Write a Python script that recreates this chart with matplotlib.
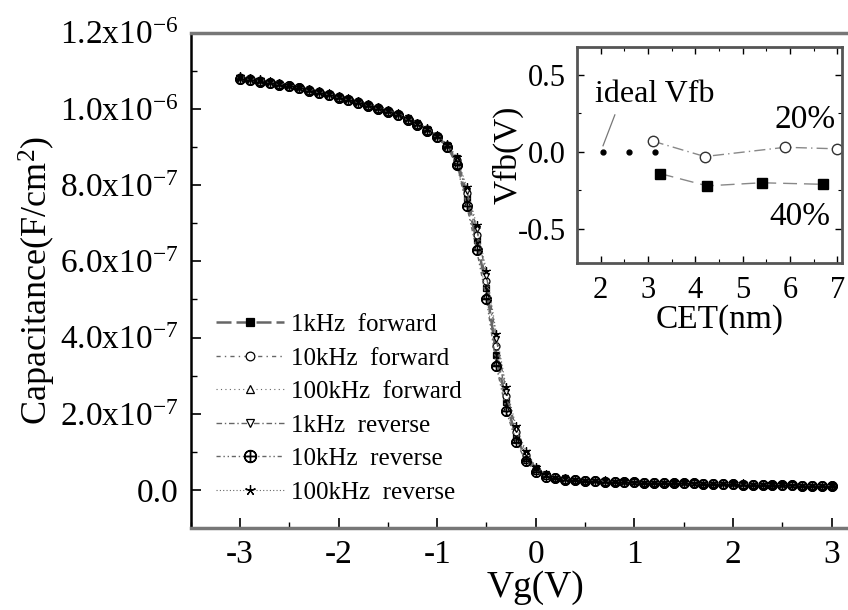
import numpy as np
import matplotlib
matplotlib.use("Agg")
import matplotlib.pyplot as plt

plt.rcParams['font.family'] = ['Liberation Serif', 'DejaVu Serif']
plt.rcParams['mathtext.fontset'] = 'custom'
plt.rcParams['mathtext.rm'] = 'Liberation Serif'
plt.rcParams['mathtext.it'] = 'Liberation Serif:italic'
plt.rcParams['mathtext.bf'] = 'Liberation Serif:bold'

# gate voltage sweep (V)
vg = [-3.0, -2.9, -2.8, -2.7, -2.6, -2.5, -2.4, -2.3, -2.2, -2.1,
      -2.0, -1.9, -1.8, -1.7, -1.6, -1.5, -1.4, -1.3, -1.2, -1.1,
      -1.0, -0.9, -0.8, -0.7, -0.6, -0.5, -0.4, -0.3, -0.2, -0.1,
      0.0, 0.1, 0.2, 0.3, 0.4, 0.5, 0.6, 0.7, 0.8, 0.9,
      1.0, 1.1, 1.2, 1.3, 1.4, 1.5, 1.6, 1.7, 1.8, 1.9,
      2.0, 2.1, 2.2, 2.3, 2.4, 2.5, 2.6, 2.7, 2.8, 2.9, 3.0]

# capacitance in units of 1e-7 F/cm2
c_1k_fwd = [10.80, 10.77, 10.73, 10.69, 10.65, 10.60, 10.55, 10.49, 10.43, 10.37,
            10.31, 10.24, 10.17, 10.10, 10.02, 9.94, 9.84, 9.73, 9.60, 9.45,
            9.27, 9.02, 8.60, 7.65, 6.55, 5.30, 3.55, 2.30, 1.40, 0.85,
            0.52, 0.38, 0.32, 0.29, 0.27, 0.25, 0.24, 0.23, 0.22, 0.21,
            0.21, 0.20, 0.20, 0.19, 0.19, 0.18, 0.18, 0.17, 0.17, 0.16,
            0.16, 0.15, 0.15, 0.14, 0.14, 0.13, 0.13, 0.12, 0.12, 0.11, 0.11]
c_10k_fwd = [10.84, 10.80, 10.76, 10.71, 10.67, 10.63, 10.57, 10.52, 10.46, 10.40,
             10.33, 10.27, 10.20, 10.12, 10.05, 9.96, 9.87, 9.76, 9.63, 9.48,
             9.30, 9.06, 8.66, 7.78, 6.70, 5.48, 3.78, 2.46, 1.52, 0.92,
             0.56, 0.40, 0.33, 0.30, 0.28, 0.26, 0.25, 0.24, 0.23, 0.22,
             0.22, 0.21, 0.21, 0.20, 0.20, 0.19, 0.19, 0.18, 0.18, 0.17,
             0.17, 0.16, 0.16, 0.15, 0.15, 0.14, 0.14, 0.13, 0.13, 0.12, 0.12]
c_100k_fwd = [10.76, 10.73, 10.70, 10.66, 10.62, 10.57, 10.52, 10.46, 10.40, 10.34,
              10.28, 10.21, 10.14, 10.07, 9.99, 9.91, 9.81, 9.70, 9.57, 9.42,
              9.24, 8.98, 8.54, 7.52, 6.40, 5.12, 3.36, 2.15, 1.30, 0.79,
              0.49, 0.36, 0.30, 0.27, 0.25, 0.23, 0.22, 0.21, 0.20, 0.19,
              0.19, 0.18, 0.18, 0.17, 0.17, 0.16, 0.16, 0.15, 0.15, 0.14,
              0.14, 0.13, 0.13, 0.12, 0.12, 0.11, 0.11, 0.10, 0.10, 0.09, 0.09]
c_1k_rev = [10.82, 10.78, 10.74, 10.70, 10.66, 10.61, 10.56, 10.50, 10.44, 10.38,
            10.32, 10.25, 10.18, 10.11, 10.03, 9.95, 9.86, 9.75, 9.62, 9.47,
            9.29, 9.05, 8.70, 7.85, 6.85, 5.62, 3.95, 2.58, 1.60, 0.97,
            0.58, 0.41, 0.34, 0.30, 0.28, 0.26, 0.25, 0.24, 0.23, 0.22,
            0.21, 0.21, 0.20, 0.20, 0.19, 0.19, 0.18, 0.18, 0.17, 0.17,
            0.16, 0.16, 0.15, 0.15, 0.14, 0.14, 0.13, 0.13, 0.12, 0.12, 0.11]
c_10k_rev = [10.78, 10.75, 10.71, 10.68, 10.63, 10.59, 10.54, 10.48, 10.42, 10.36,
             10.29, 10.23, 10.16, 10.08, 10.01, 9.92, 9.83, 9.71, 9.58, 9.43,
             9.25, 9.00, 8.52, 7.45, 6.30, 5.00, 3.25, 2.08, 1.26, 0.76,
             0.47, 0.35, 0.30, 0.27, 0.25, 0.24, 0.23, 0.22, 0.21, 0.20,
             0.20, 0.19, 0.19, 0.18, 0.18, 0.17, 0.17, 0.16, 0.16, 0.15,
             0.15, 0.14, 0.14, 0.13, 0.13, 0.12, 0.12, 0.11, 0.11, 0.10, 0.10]
c_100k_rev = [10.86, 10.82, 10.78, 10.73, 10.69, 10.64, 10.58, 10.53, 10.47, 10.41,
              10.35, 10.28, 10.21, 10.13, 10.06, 9.97, 9.88, 9.77, 9.64, 9.50,
              9.32, 9.08, 8.74, 7.95, 6.95, 5.75, 4.10, 2.70, 1.68, 1.02,
              0.61, 0.43, 0.35, 0.31, 0.29, 0.27, 0.26, 0.25, 0.24, 0.23,
              0.22, 0.22, 0.21, 0.21, 0.20, 0.20, 0.19, 0.19, 0.18, 0.18,
              0.17, 0.17, 0.16, 0.16, 0.15, 0.15, 0.14, 0.14, 0.13, 0.13, 0.12]

labels = ["1kHz  forward", "10kHz  forward", "100kHz  forward",
          "1kHz  reverse", "10kHz  reverse", "100kHz  reverse"]

ytick_vals = [0.0, 2e-7, 4e-7, 6e-7, 8e-7, 1.0e-6, 1.2e-6]
ytick_labels = ["0.0", "2.0x10$^{-7}$", "4.0x10$^{-7}$", "6.0x10$^{-7}$",
                "8.0x10$^{-7}$", "1.0x10$^{-6}$", "1.2x10$^{-6}$"]
xtick_vals = [-3, -2, -1, 0, 1, 2, 3]

# inset: flat-band voltage vs CET
cet_ideal = [2.05, 2.6, 3.15]
vfb_ideal = [0.0, 0.0, 0.0]
cet_20 = [3.1, 4.2, 5.9, 7.0]
vfb_20 = [0.07, -0.03, 0.03, 0.02]
cet_40 = [3.25, 4.25, 5.4, 6.7]
vfb_40 = [-0.14, -0.22, -0.2, -0.21]

fig = plt.figure(figsize=(8.48, 6.1), dpi=100)
ax = fig.add_axes([0.2249, 0.1344, 0.8138, 0.812])

series = [c_1k_fwd, c_10k_fwd, c_100k_fwd, c_1k_rev, c_10k_rev, c_100k_rev]
styles = [
    dict(marker='s', mfc='black', ls=(0, (6, 2)), lw=1.8, ms=5),
    dict(marker='o', mfc='white', ls=(0, (3, 3, 1, 3)), lw=1.0, ms=5),
    dict(marker='^', mfc='white', ls=(0, (1, 3)), lw=0.8, ms=5),
    dict(marker='v', mfc='white', ls=(0, (4, 2, 1, 2)), lw=1.0, ms=5),
    dict(marker=r'$\oplus$', mfc='black', ls=(0, (3, 2, 1, 2, 1, 2)), lw=1.0, ms=7),
    dict(marker=(5, 2, 0), mfc='black', ls=(0, (1, 2)), lw=0.8, ms=6),
]
for c, st, lab in zip(series, styles, labels):
    ax.plot(vg, np.array(c) * 1e-7, color='#666666', mec='black', mew=0.9,
            label=lab, **st)

ax.set_xlim(-3.5, 3.5)
ax.set_ylim(-1e-7, 1.2e-6)
ax.set_xticks(xtick_vals)
ax.set_xticklabels([str(v) for v in xtick_vals])
ax.set_xticks([-3.5, -2.5, -1.5, -0.5, 0.5, 1.5, 2.5, 3.5], minor=True)
ax.set_yticks(ytick_vals)
ax.set_yticklabels(ytick_labels)
ax.set_yticks([1e-7, 3e-7, 5e-7, 7e-7, 9e-7, 1.1e-6], minor=True)
ax.tick_params(which='both', direction='in', labelsize=24, colors='black')
ax.tick_params(which='major', length=7, width=1.2)
ax.tick_params(which='minor', length=4, width=1.0)
ax.tick_params(axis='y', pad=9)
ax.tick_params(axis='x', pad=8)
for side in ['left', 'top', 'bottom', 'right']:
    ax.spines[side].set_linewidth(1.8)
ax.spines['top'].set_color('#777777')
ax.spines['bottom'].set_color('#777777')
ax.spines['top'].set_linewidth(2.5)
ax.spines['bottom'].set_linewidth(2.5)

ax.set_xlabel("Vg(V)", fontsize=27)
ax.xaxis.set_label_coords(0.5, -0.085)
ax.set_ylabel("Capacitance(F/cm$^2$)", fontsize=26)
ax.yaxis.set_label_coords(-0.192, 0.5)

leg = ax.legend(loc='lower left', bbox_to_anchor=(0.012, 0.014), frameon=False,
                fontsize=18, handlelength=2.7, handletextpad=0.3,
                labelspacing=0.44, borderpad=0.2, markerscale=1.25)

# inset
ax2 = fig.add_axes([577 / 848, (610 - 263) / 610, 265 / 848, 216 / 610])
ax2.plot(cet_ideal, vfb_ideal, ls='none', marker='o', ms=3.5, color='black')
ax2.plot(cet_20, vfb_20, color='#888888', lw=1.0, ls=(0, (8, 3, 1, 3)),
         marker='o', ms=7.5, mfc='white', mec='#333333', mew=1.0)
ax2.plot(cet_40, vfb_40, color='#888888', lw=1.0, ls=(0, (10, 5)),
         marker='s', ms=7.5, mfc='black', mec='black')
ax2.set_xlim(1.5, 7.1)
ax2.set_ylim(-0.72, 0.68)
ax2.set_xticks([2, 3, 4, 5, 6, 7])
ax2.set_xticks([1.5, 2.5, 3.5, 4.5, 5.5, 6.5], minor=True)
ax2.set_yticks([-0.5, 0.0, 0.5])
ax2.set_yticklabels(["-0.5", "0.0", "0.5"])
ax2.set_yticks([-0.25, 0.25], minor=True)
ax2.tick_params(which='both', direction='in', labelsize=22, top=True, right=True)
ax2.tick_params(which='major', length=5, width=1.0)
ax2.tick_params(which='minor', length=3, width=0.8)
ax2.tick_params(axis='y', pad=8)
ax2.tick_params(axis='x', pad=9)
for side in ['left', 'top', 'bottom', 'right']:
    ax2.spines[side].set_linewidth(2.0)
    ax2.spines[side].set_color('#555555')
ax2.set_xlabel("CET(nm)", fontsize=24)
ax2.xaxis.set_label_coords(0.54, -0.19)
ax2.set_ylabel("Vfb(V)", fontsize=24)
ax2.yaxis.set_label_coords(-0.2, 0.5)

ax2.text(1.88, 0.37, "ideal Vfb", fontsize=23, va='center', ha='left')
ax2.plot([2.3, 2.05], [0.24, 0.04], color='#777777', lw=0.9)
ax2.text(5.68, 0.21, "20%", fontsize=24, va='center', ha='left')
ax2.text(5.57, -0.42, "40%", fontsize=24, va='center', ha='left')

fig.savefig("out.png", dpi=100)
